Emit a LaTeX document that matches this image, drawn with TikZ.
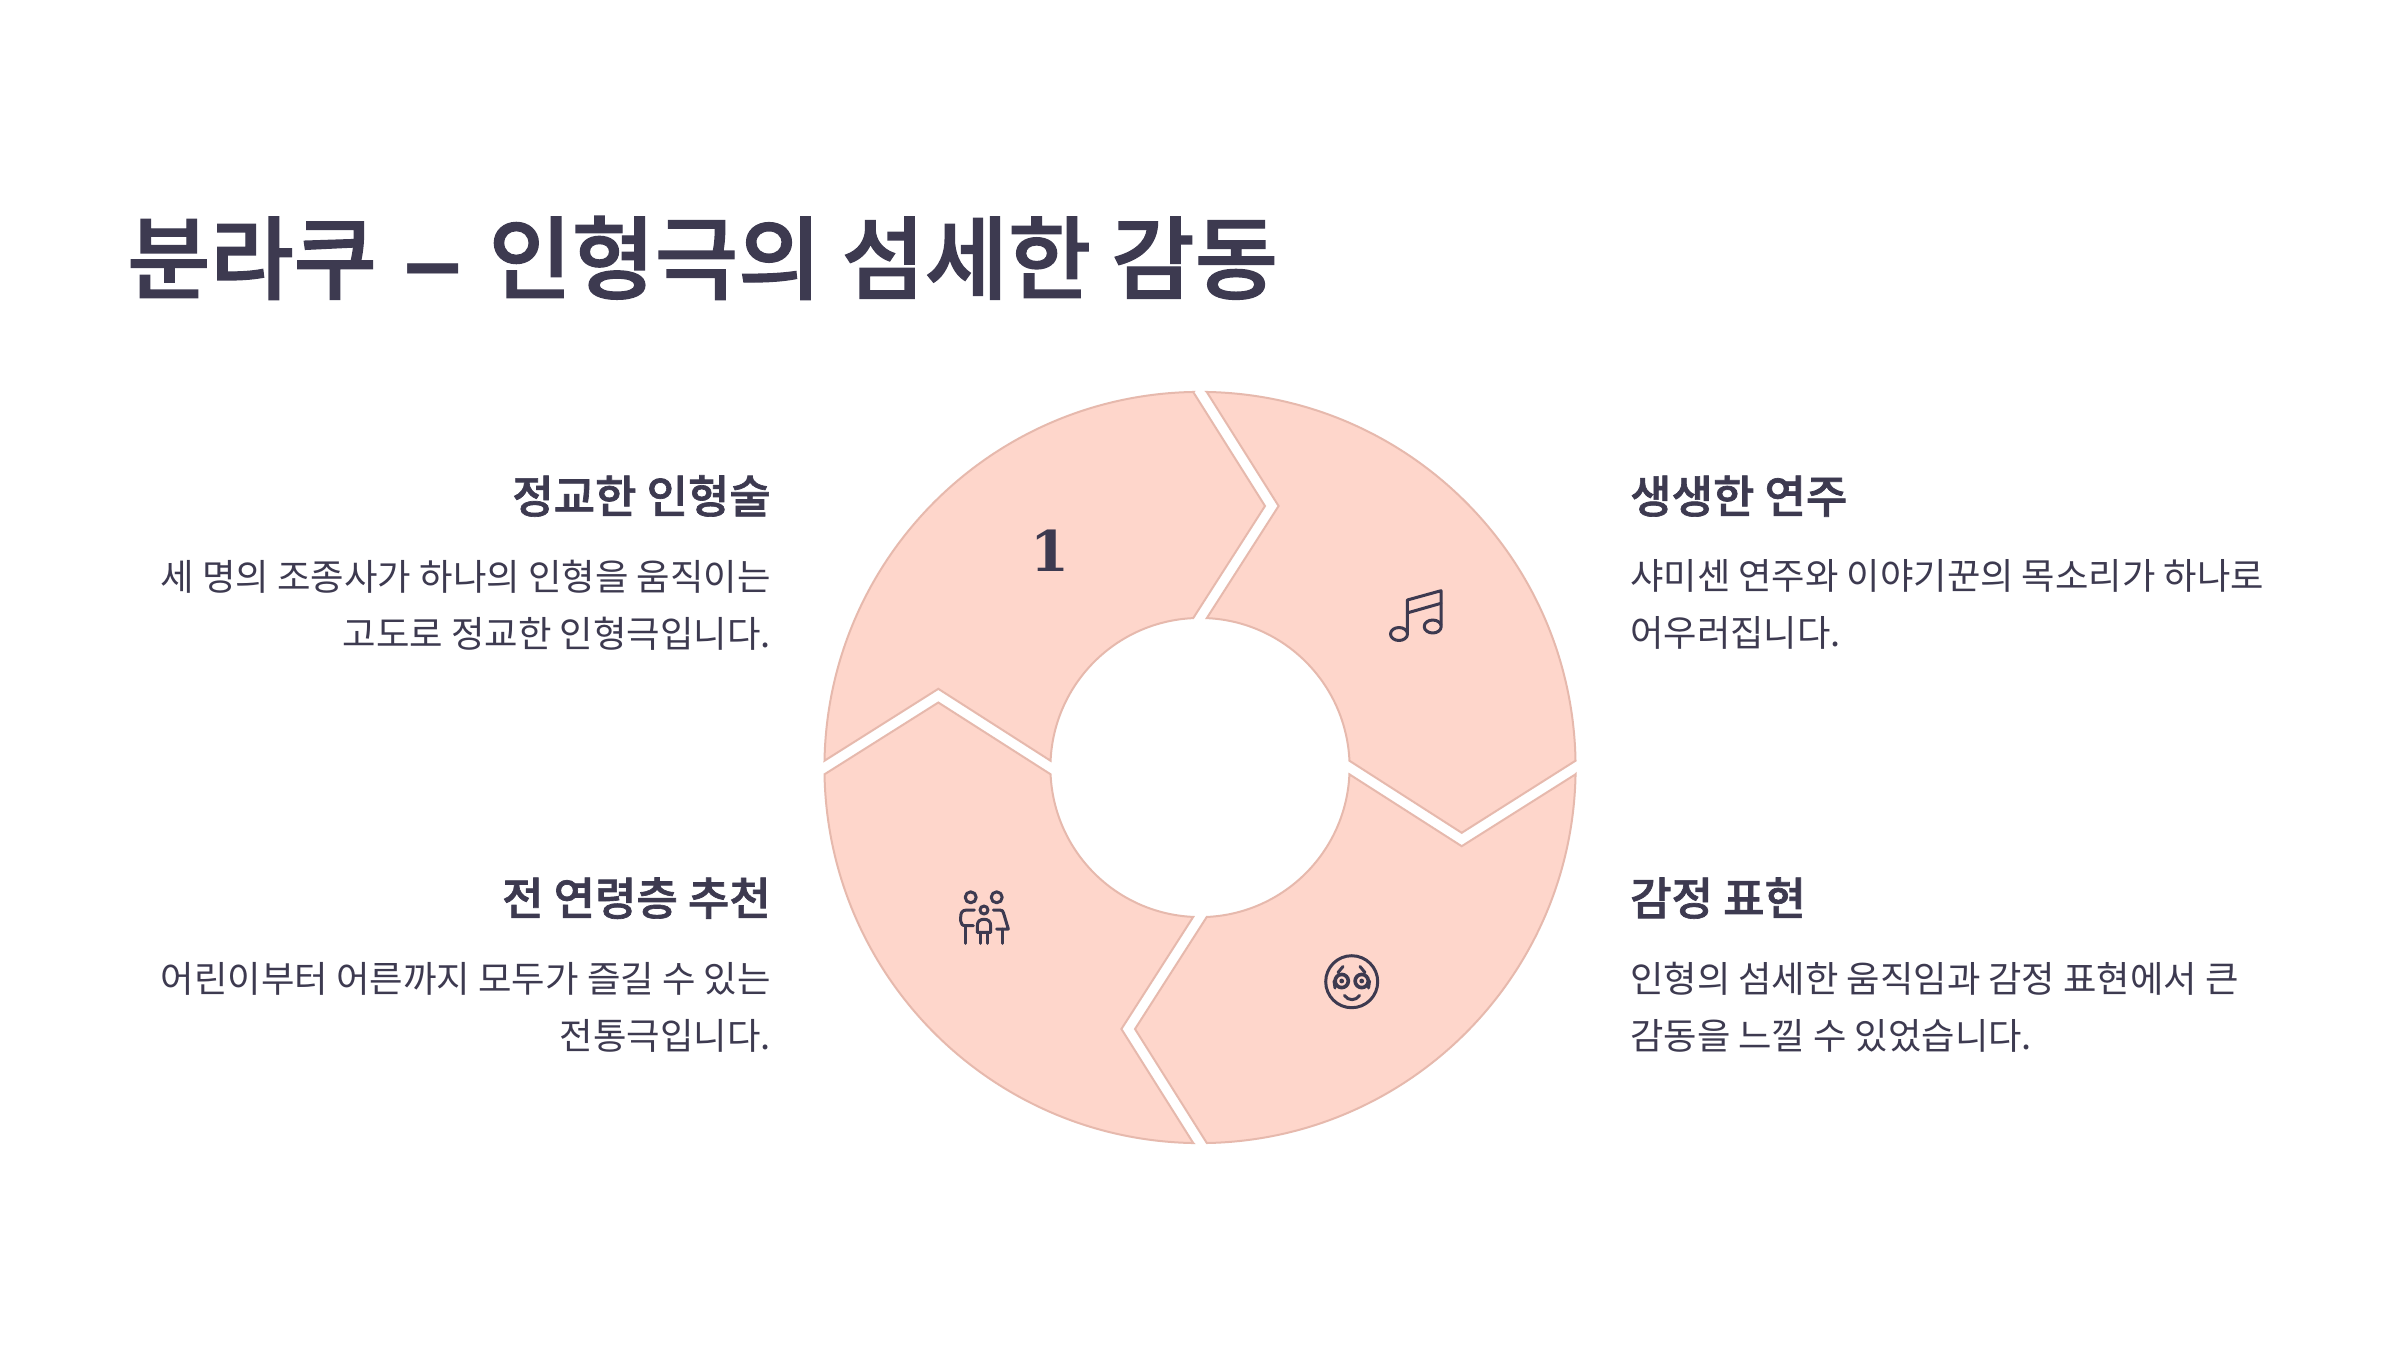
\documentclass[tikz,border=0pt]{standalone}
\usepackage{fontspec}
\setmainfont{Noto Sans CJK KR}
\newfontfamily\numfont{DejaVu Serif}
\newfontfamily\dashfont{Liberation Sans}
\newfontfamily\medfont[FakeBold=1.5]{Noto Sans CJK KR Medium}
\definecolor{ink}{HTML}{3D3A50}
\definecolor{segfill}{HTML}{FED6CB}
\definecolor{segline}{HTML}{E6B9AD}
\tikzset{
  seg/.style={fill=segfill,draw=segline,line width=2pt,line join=miter},
  icon/.style={draw=ink,line width=3pt,line cap=round,line join=round},
  titletext/.style={inner sep=0,anchor=base west,text=ink,font=\medfont\fontsize{90.4}{110}\selectfont},
  headl/.style={inner sep=0,anchor=base east,text=ink,font=\medfont\fontsize{45}{50}\selectfont},
  headr/.style={inner sep=0,anchor=base west,text=ink,font=\medfont\fontsize{45}{50}\selectfont},
  bodyl/.style={inner sep=0,anchor=north east,align=right,text=ink,font=\fontsize{36.4}{57.2}\selectfont},
  bodyr/.style={inner sep=0,anchor=north west,align=left,text=ink,font=\fontsize{36.3}{57.2}\selectfont},
}
\begin{document}
\begin{tikzpicture}[x=1pt,y=-1pt]
\useasboundingbox (0,0) rectangle (2400,1350);
\fill[white] (0,0) rectangle (2400,1350);
\node[titletext] (title) at (127,292) {분라쿠 \hspace{7pt}\raisebox{-4pt}{\dashfont\bfseries\fontsize{103}{110}\selectfont –}\hspace{7pt} 인형극의 섬세한 감동};
\begin{scope}[shift={(1200,767.5)}]
\def\Ro{375.6}\def\Ri{149.6}
\draw[seg] (-6.8,-375.5) -- (65,-261.5) -- (-6.8,-149.4)
  arc[start angle=-92.607,end angle=-177.393,radius=\Ri]
  -- (-261.7,-78.7) -- (-375.5,-6.8)
  arc[start angle=-178.963,end angle=-91.037,radius=\Ro] -- cycle;
\draw[seg] (6.8,-375.5) -- (78.6,-261.5) -- (6.8,-149.4)
  arc[start angle=-87.393,end angle=-2.607,radius=\Ri]
  -- (261.7,65.3) -- (375.5,-6.8)
  arc[start angle=-1.037,end angle=-88.963,radius=\Ro] -- cycle;
\draw[seg] (375.5,6.8) -- (261.7,78.7) -- (149.4,6.8)
  arc[start angle=2.607,end angle=87.393,radius=\Ri]
  -- (-65,261.5) -- (6.8,375.5)
  arc[start angle=88.963,end angle=1.037,radius=\Ro] -- cycle;
\draw[seg] (-6.8,375.5) -- (-78.6,261.5) -- (-6.8,149.4)
  arc[start angle=92.607,end angle=177.393,radius=\Ri]
  -- (-261.7,-65) -- (-375.5,6.8)
  arc[start angle=178.963,end angle=91.037,radius=\Ro] -- cycle;
\end{scope}
\node[inner sep=0,anchor=base,text=ink,font=\numfont\fontsize{56}{60}\selectfont\bfseries] (one) at (1049.5,571) {1};
% music icon
\draw[icon] (1407.3,633) -- (1407.3,600) -- (1441,590.7) -- (1441,625);
\draw[icon] (1408,612.7) -- (1441,603.3);
\draw[icon] (1399,634) ellipse[x radius=8.5,y radius=6.5];
\draw[icon] (1432.7,626.5) ellipse[x radius=8.5,y radius=6.5];
% face icon
\draw[icon] (1351.7,981.7) circle[radius=26];
\draw[icon,line width=3.6pt] (1341.7,981) circle[radius=6.6];
\draw[icon,line width=3.6pt] (1361.7,981) circle[radius=6.6];
\fill[ink] (1341.7,981) circle[radius=2.4] (1361.7,981) circle[radius=2.4];
\draw[icon] (1344.5,995.5) .. controls (1348,1001) and (1356,1001) .. (1359.5,995.5);
\draw[icon] (1343,966.5) -- (1338,972.5);
\draw[icon] (1360,966.5) -- (1365,972.5);
\draw[icon] (1334,981) -- (1335,988);
\draw[icon] (1369.5,981) -- (1368.5,988);
% family icon
\draw[icon] (970.7,897.3) circle[radius=5.5];
\draw[icon] (996.7,897.3) circle[radius=5.5];
\draw[icon] (984,910) circle[radius=4];
\draw[icon] (974.3,910) -- (966.7,910) .. controls (962,910) and (960.7,913) .. (960.7,917) -- (960.7,921) .. controls (960.7,924) and (962.5,925.7) .. (965.7,925.7) -- (973.3,925.7);
\draw[icon] (965.7,925.7) -- (965.7,943.3);
\draw[icon] (993.3,910) -- (1000,910) .. controls (1002,910) and (1003,911) .. (1003.5,913) -- (1008.3,929) -- (996.7,929);
\draw[icon] (1002.3,929) -- (1002.3,943.3);
\draw[icon] (977.3,932.3) -- (977.3,926) .. controls (977.3,921) and (980,919.3) .. (984,919.3) .. controls (988,919.3) and (990.7,921) .. (990.7,926) -- (990.7,932.3) -- cycle;
\draw[icon] (980.7,932.3) -- (980.7,943.3);
\draw[icon] (987.7,932.3) -- (987.7,943.3);
% texts
\node[headl] (h1) at (771,513) {정교한 인형술};
\node[bodyl] (b1) at (771,559.5) {세 명의 조종사가 하나의 인형을 움직이는\\고도로 정교한 인형극입니다.};
\node[headr] (h2) at (1630,513) {생생한 연주};
\node[bodyr] (b2) at (1630,559.5) {샤미센 연주와 이야기꾼의 목소리가 하나로\\어우러집니다.};
\node[headl] (h3) at (771,915) {전 연령층 추천};
\node[bodyl] (b3) at (771,962) {어린이부터 어른까지 모두가 즐길 수 있는\\전통극입니다.};
\node[headr] (h4) at (1630,915) {감정 표현};
\node[bodyr] (b4) at (1630,962) {인형의 섬세한 움직임과 감정 표현에서 큰\\감동을 느낄 수 있었습니다.};
\end{tikzpicture}
\end{document}
